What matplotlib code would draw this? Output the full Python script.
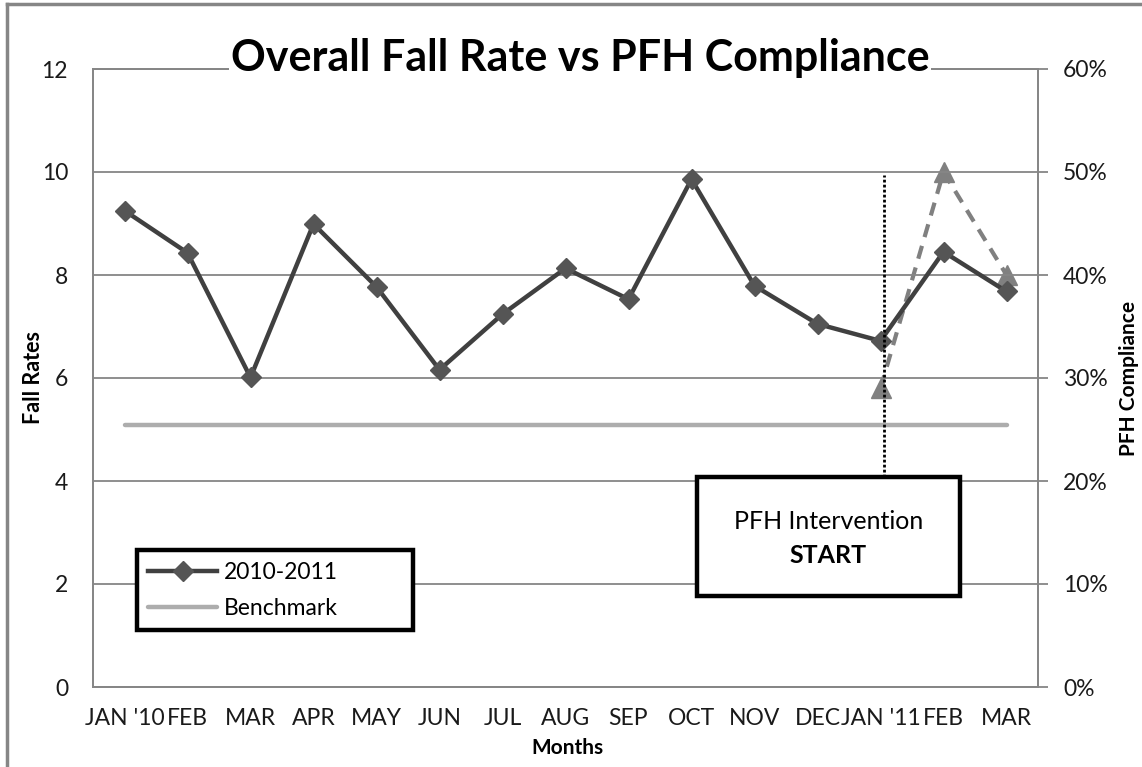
import matplotlib
matplotlib.use("Agg")
import numpy as np
import matplotlib.pyplot as plt
from matplotlib.lines import Line2D
from matplotlib.patches import Rectangle
from matplotlib.ticker import PercentFormatter

plt.rcParams["font.family"] = ["Lato", "DejaVu Sans"]

# data
MONTHS = ["JAN '10", "FEB", "MAR", "APR", "MAY", "JUN", "JUL", "AUG",
          "SEP", "OCT", "NOV", "DEC", "JAN '11", "FEB", "MAR"]
FALL_RATE = [9.25, 8.43, 6.01, 8.99, 7.77, 6.16, 7.24, 8.13,
             7.53, 9.86, 7.79, 7.05, 6.72, 8.45, 7.68]
BENCHMARK = 5.08
COMPLIANCE_IDX = [12, 13, 14]          # JAN '11, FEB, MAR
COMPLIANCE = [0.29, 0.50, 0.40]
INTERVENTION_IDX = 12

GRID = "#868686"
DARK = "#404040"
FS = 16.5

fig = plt.figure(figsize=(11.42, 7.67), dpi=100)
ax = fig.add_axes([93 / 1142, 1 - 687 / 767, 945 / 1142, 618 / 767])
ax2 = ax.twinx()
ax.set_zorder(ax2.get_zorder() + 1)
ax.patch.set_visible(False)

x = np.arange(len(MONTHS))

# compliance (right axis)
ax2.plot(COMPLIANCE_IDX, COMPLIANCE, color="#808080", lw=3, ls=(0, (3.2, 2.2)),
         marker="^", ms=15, mec="#808080", mfc="#808080", zorder=2)

# fall rate + benchmark (left axis)
ax.plot(x, [BENCHMARK] * len(x), color="#ADADAD", lw=3.2,
        solid_capstyle="round", zorder=2, label="Benchmark")
ax.plot(x, FALL_RATE, color=DARK, lw=3.2, marker="D", ms=10,
        mfc="#555555", mec="#555555", zorder=3, label="2010-2011")

# intervention marker
ax.plot([INTERVENTION_IDX + 0.06] * 2, [4.08, 9.95], color="black",
        lw=2, ls=(0, (1, 0.8)), zorder=4)

ax.set_xlim(-0.5, len(MONTHS) - 0.5)
ax.set_ylim(0, 12)
ax.set_yticks(range(0, 13, 2))
ax.set_xticks(x)
ax.set_xticklabels(MONTHS)
ax.grid(axis="y", color=GRID, lw=1.3)
ax.tick_params(axis="both", length=0, labelsize=FS, colors="#1a1a1a")
ax.tick_params(axis="y", pad=18)
ax.tick_params(axis="x", pad=15)
for s in ax.spines.values():
    s.set_color(GRID)
    s.set_linewidth(1.3)

ax2.set_ylim(0, 0.6)
ax2.set_yticks(np.arange(0, 0.61, 0.1))
ax2.yaxis.set_major_formatter(PercentFormatter(1.0, decimals=0))
ax2.tick_params(axis="y", length=7, width=1.3, color=GRID, pad=11,
                labelsize=FS, labelcolor="#1a1a1a")
for s in ax2.spines.values():
    s.set_color(GRID)
    s.set_linewidth(1.3)

# axis titles
fig.text(33 / 1142, 1 - 378 / 767, "Fall Rates", rotation=90, ha="center",
         va="center", fontsize=15.5, fontweight="bold")
fig.text(1129 / 1142, 1 - 378 / 767, "PFH Compliance", rotation=90,
         ha="center", va="center", fontsize=15, fontweight="bold")
fig.text(567 / 1142, 1 - 748 / 767, "Months", ha="center", va="center",
         fontsize=15, fontweight="bold")

# title over the top gridline
fig.text(580 / 1142, 1 - 71 / 767, "Overall Fall Rate vs PFH Compliance",
         ha="center", va="baseline", fontsize=31, fontweight="bold",
         bbox=dict(facecolor="white", edgecolor="none", pad=1), zorder=10)

# legend
handles, labels = ax.get_legend_handles_labels()
leg = ax.legend(handles[::-1], labels[::-1], loc="lower left",
                bbox_to_anchor=(0.0466, 0.092, 0.292, 0.133), mode="expand",
                borderaxespad=0, fontsize=FS, handlelength=3.0,
                handletextpad=0.3, labelspacing=0.65, borderpad=0.5,
                fancybox=False, framealpha=1)
leg.get_frame().set_edgecolor("black")
leg.get_frame().set_linewidth(3.2)
leg.set_zorder(20)

# intervention box
ax.add_patch(Rectangle((0.639, 0.147), 0.2785, 0.193, transform=ax.transAxes,
                       facecolor="white", edgecolor="black", lw=3.2,
                       zorder=15))
ax.text(0.7783, 0.267, "PFH Intervention", transform=ax.transAxes,
        ha="center", va="center", fontsize=18, zorder=16)
ax.text(0.7783, 0.212, "START", transform=ax.transAxes, ha="center",
        va="center", fontsize=18, fontweight="bold", zorder=16)

# outer chart frame (cropped at right/bottom)
fig.add_artist(Line2D([7 / 1142, 7 / 1142], [0, 1 - 4 / 767],
                      transform=fig.transFigure, color=GRID, lw=2.5))
fig.add_artist(Line2D([7 / 1142, 1], [1 - 4 / 767, 1 - 4 / 767],
                      transform=fig.transFigure, color=GRID, lw=2.5))

fig.savefig("out.png", dpi=100)
